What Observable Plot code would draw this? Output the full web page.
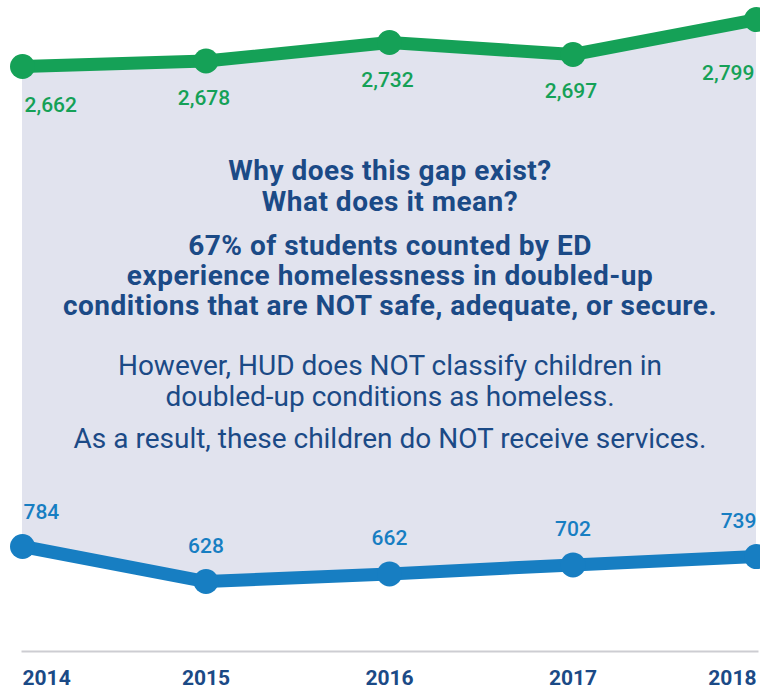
<!DOCTYPE html>
<html>
<head>
<meta charset="utf-8">
<script src="https://cdn.jsdelivr.net/npm/d3@7"></script>
<script src="https://cdn.jsdelivr.net/npm/@observablehq/plot@0.6"></script>
<style>
  html, body { margin: 0; padding: 0; background: #ffffff; }
  #chart { width: 760px; height: 690px; overflow: hidden; }
  .spaced text, text.spaced, .spaced tspan { letter-spacing: 0.5px; }
</style>
</head>
<body>
<div id="chart"></div>
<script>
// ---- data ----
const years = [2014, 2015, 2016, 2017, 2018];
const edCounts = [2662, 2678, 2732, 2697, 2799];   // green series
const hudCounts = [784, 628, 662, 702, 739];       // blue series
const yearLabels = ["2014", "2015", "2016", "2017", "2018"];
const questionLines = ["Why does this gap exist?", "What does it mean?"];
const factLines = [
  "67% of students counted by ED",
  "experience homelessness in doubled-up",
  "conditions that are NOT safe, adequate, or secure."
];
const hudLines = ["However, HUD does NOT classify children in", "doubled-up conditions as homeless."];
const resultLines = ["As a result, these children do NOT receive services."];

// ---- styles ----
const green = "#15a157";
const blue = "#177ec2";
const navy = "#1b4a86";
const fill = "#e1e3ee";
const fmt = d3.format(",");

const data = years.map((year, i) => ({
  year, ed: edCounts[i], hud: hudCounts[i], yearLabel: yearLabels[i]
}));
const first = data.slice(0, 1);
const middle = data.slice(1, -1);
const last = data.slice(-1);

const numFont = {fontSize: 21, fontWeight: 500};
const yearFont = {fill: navy, fontSize: 21, fontWeight: 700, frameAnchor: "bottom", lineAnchor: "bottom", dy: 33};

const chart = Plot.plot({
  width: 760,
  height: 690,
  marginTop: 0,
  marginLeft: 22,
  marginRight: 3,
  marginBottom: 39,
  x: {type: "linear", domain: [2014, 2018], range: [22, 756], axis: null},
  y: {type: "linear", domain: [600, 800, 2650, 2800], range: [587.3, 542.4, 70.1, 18.7], axis: null},
  style: {fontFamily: "Roboto, 'Noto Sans', sans-serif", background: "#ffffff"},
  marks: [
    Plot.areaY(data, {x: "year", y1: "hud", y2: "ed", fill}),
    Plot.frame({anchor: "bottom", stroke: "#cdcdd2", strokeWidth: 2}),

    Plot.line(data, {x: "year", y: "ed", stroke: green, strokeWidth: 13}),
    Plot.dot(data, {x: "year", y: "ed", r: 12.5, fill: green}),
    Plot.line(data, {x: "year", y: "hud", stroke: blue, strokeWidth: 13}),
    Plot.dot(data, {x: "year", y: "hud", r: 12.5, fill: blue}),

    // green value labels
    Plot.text(first, {x: "year", y: "ed", text: d => fmt(d.ed), fill: green, textAnchor: "start", lineAnchor: "bottom", dx: 2, dy: 46, ...numFont}),
    Plot.text(middle, {x: "year", y: "ed", text: d => fmt(d.ed), fill: green, lineAnchor: "bottom", dx: -2, dy: 44, ...numFont}),
    Plot.text(last, {x: "year", y: "ed", text: d => fmt(d.ed), fill: green, textAnchor: "end", lineAnchor: "bottom", dx: -2, dy: 60, ...numFont}),

    // blue value labels
    Plot.text(first, {x: "year", y: "hud", text: d => fmt(d.hud), fill: blue, textAnchor: "start", lineAnchor: "bottom", dx: 1, dy: -27, ...numFont}),
    Plot.text(middle, {x: "year", y: "hud", text: d => fmt(d.hud), fill: blue, lineAnchor: "bottom", dy: -29, ...numFont}),
    Plot.text(last, {x: "year", y: "hud", text: d => fmt(d.hud), fill: blue, textAnchor: "end", lineAnchor: "bottom", dy: -29, ...numFont}),

    // year labels
    Plot.text(first, {x: "year", text: "yearLabel", textAnchor: "start", ...yearFont}),
    Plot.text(middle, {x: "year", text: "yearLabel", ...yearFont}),
    Plot.text(last, {x: "year", text: "yearLabel", textAnchor: "end", ...yearFont}),

    // central explanatory text
    Plot.text([questionLines.join("\n")], {text: d => d, frameAnchor: "top", lineAnchor: "top", dy: 157, lineHeight: 1.12, fill: navy, fontSize: 28, fontWeight: 700, className: "spaced"}),
    Plot.text([factLines.join("\n")], {text: d => d, frameAnchor: "top", lineAnchor: "top", dy: 233, lineHeight: 1.08, fill: navy, fontSize: 28, fontWeight: 700, className: "spaced"}),
    Plot.text([hudLines.join("\n")], {text: d => d, frameAnchor: "top", lineAnchor: "top", dy: 353, lineHeight: 1.1, fill: navy, fontSize: 28, fontWeight: 400}),
    Plot.text([resultLines.join("\n")], {text: d => d, frameAnchor: "top", lineAnchor: "top", dy: 428, fill: navy, fontSize: 28, fontWeight: 400})
  ]
});
document.getElementById("chart").appendChild(chart);
</script>
</body>
</html>
